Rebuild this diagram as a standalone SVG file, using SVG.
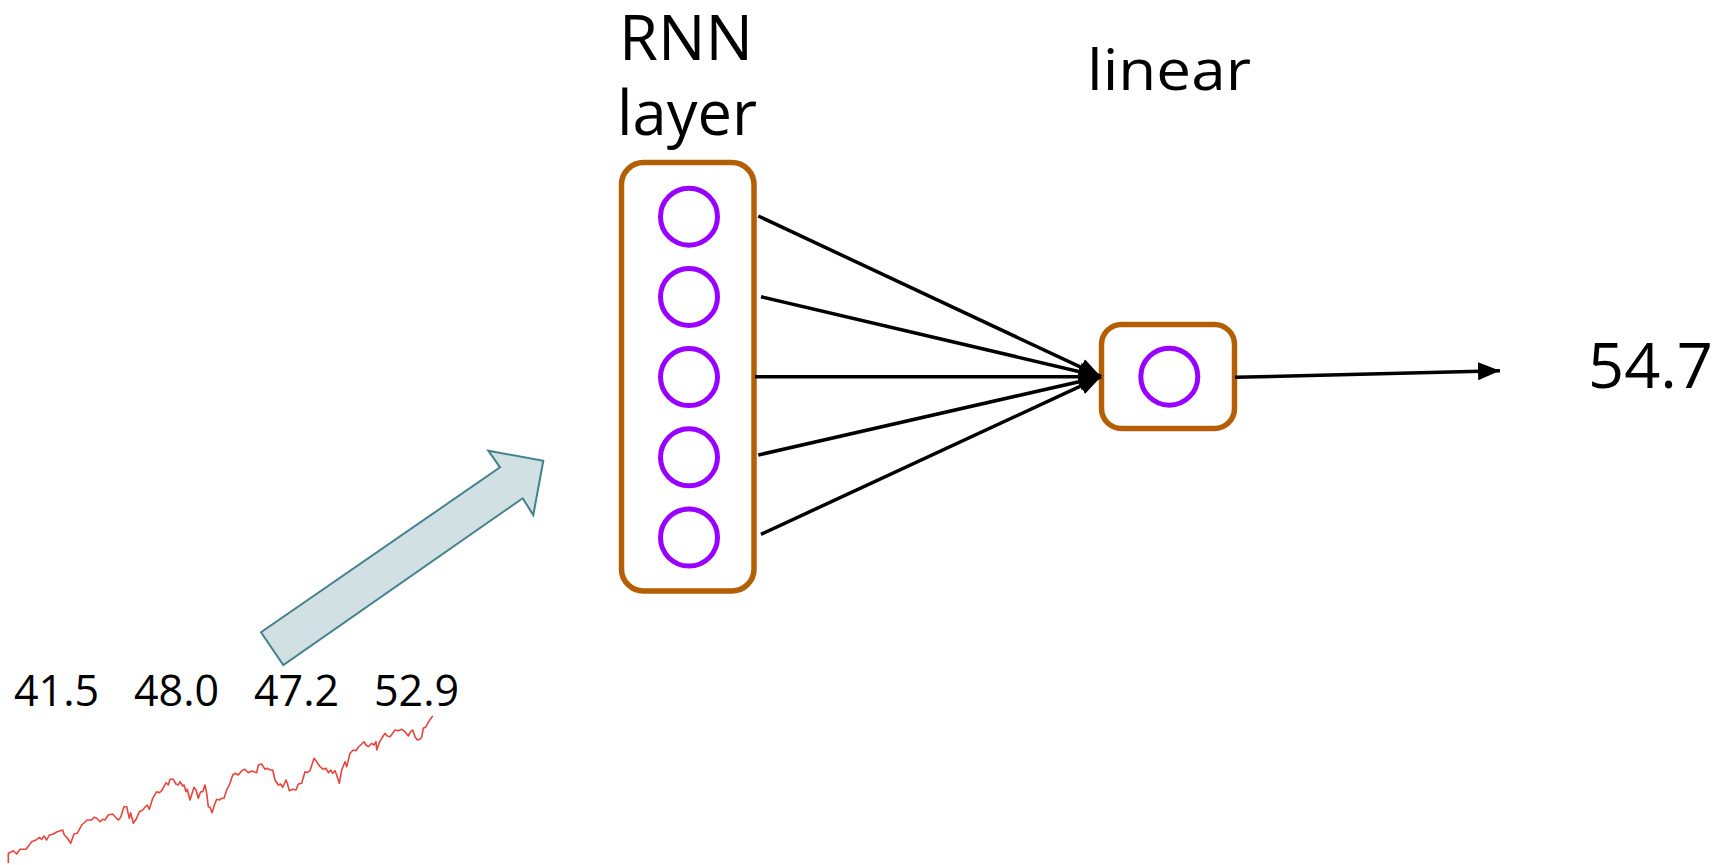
<svg xmlns="http://www.w3.org/2000/svg" width="1718" height="865" viewBox="0 0 1718 865">
  <style>
    .label { font-family: "Open Sans", "Liberation Sans", sans-serif; fill: #000; }
    .box { fill: #fff; stroke: #b45f06; stroke-width: 5.5; }
    .unit { fill: none; stroke: #9900ff; stroke-width: 5; }
    .edge { stroke: #000; stroke-width: 3.5; fill: none; }
  </style>
  <defs>
    <marker id="head" markerUnits="userSpaceOnUse" viewBox="0 0 22 18" markerWidth="22" markerHeight="18" refX="22" refY="9" orient="auto">
      <path d="M0,0 L22,9 L0,18 z" fill="#000"/>
    </marker>
  </defs>
  <rect width="1718" height="865" fill="#fff"/>

  <!-- input sequence values -->
  <g id="inputs">
    <text class="label" x="14" y="706" font-size="43">41.5</text>
    <text class="label" x="134" y="706" font-size="43">48.0</text>
    <text class="label" x="254" y="706" font-size="43">47.2</text>
    <text class="label" x="374" y="706" font-size="43">52.9</text>
  </g>

  <!-- price series sparkline -->
  <g id="series">
    <polyline fill="none" stroke="#e8463c" stroke-width="1.6" stroke-linejoin="round" points="8.3,863 8.3,853.3 11.7,851.7 13.3,850.7 16.7,854 20,849.3 26,849.3 31.7,841.7 36,840 39.3,837.3 41.7,839.3 44,836 46.7,840 49.3,835 53.3,834 56.7,832 62.7,830 64.3,835 66.7,837.3 70.7,843.3 74,834 77.3,833.3 81.7,825 87.3,820 91.7,820 94,817.3 96.7,818.3 100,821.7 102.7,819.3 105,820 108.3,815 112.7,814 115,816.7 118.3,820 120.7,817.3 124,806.7 126.7,806.7 129.3,818.3 130.7,812.7 133.3,823.3 136.7,818.3 139.3,811.7 142.7,810 145,807.3 147.3,805 149.3,809.3 152.7,798.3 156.7,791.7 159.3,792.7 161.7,790.7 166,782.7 168.3,785 170,779.3 173.3,779.3 176,784 178.3,785 180,781.7 182.7,786 184,785 186,791.7 187.3,789.3 190,800 194,787.3 196,790 198.3,798.3 200.7,791.7 202.7,791.7 205,785 206.7,793.3 208.3,806.7 210,807.3 212,812.7 214,806 216.7,799.3 219.3,800 221.7,798.3 224,798.3 226.7,790 230,783.3 232.7,775 235,773.3 238.3,775 241.7,770.7 245,769.3 248.3,772.7 251.7,771 256.7,772.7 258.3,765 261.7,764 265,769.3 267.3,768.3 270,770 272.7,770 275,780 278.3,785 280.7,784 282.7,787.3 286,780 287.3,783.3 289.3,790.7 292.7,789.3 296,790 298.3,784 301.7,783.3 305,771.7 307.3,772.7 310,770.7 314,758.3 316.7,761.7 320,766.7 323.3,769.3 326,768.3 328.3,772.7 330.7,770 332.7,773.3 335,770.7 336.7,775 339.3,783.3 341.7,770 345,761.7 346.7,766.7 350,753.3 353.3,750 356,750.7 358.3,747.3 361.7,744 364,741.7 366,745 368.3,746.7 371.7,743.3 374,745 376,741.7 376.7,750 379.3,742.7 381.7,738.3 385,733.3 387.3,736 390,736.7 392.7,733.3 395,730 398.3,730.7 401.7,729.3 405,731.7 408.3,736 410.7,731.7 412.7,730 415,736.7 417.3,740 420,739.3 421.7,737.3 423.3,728.3 426,726.7 429.3,720.7 432.7,716"/>
  </g>

  <!-- block arrow feeding the sequence into the recurrent layer -->
  <g id="feed-arrow">
    <polygon points="261,632.3 283.3,665 522.7,498.3 533.3,515 543.3,460.7 488.3,450.7 500,467.3" fill="#d0e0e3" stroke="#45818e" stroke-width="2" stroke-linejoin="miter"/>
  </g>

  <!-- recurrent layer -->
  <g id="rnn-layer">
    <text class="label" font-size="62">
      <tspan x="619" y="59.5" textLength="134" lengthAdjust="spacingAndGlyphs">RNN</tspan>
      <tspan x="617" y="135" textLength="140" lengthAdjust="spacingAndGlyphs">layer</tspan>
    </text>
    <rect class="box" x="621.5" y="162.5" width="132.5" height="428.5" rx="22"/>
    <circle class="unit" cx="689" cy="216.7" r="28.5"/>
    <circle class="unit" cx="689" cy="296.9" r="28.5"/>
    <circle class="unit" cx="689" cy="377.1" r="28.5"/>
    <circle class="unit" cx="689" cy="457.3" r="28.5"/>
    <circle class="unit" cx="689" cy="537.5" r="28.5"/>
  </g>

  <!-- linear output layer -->
  <g id="linear-layer">
    <text class="label" x="1087" y="89.5" font-size="57" textLength="164" lengthAdjust="spacingAndGlyphs">linear</text>
    <rect class="box" x="1101.5" y="324.5" width="133" height="104" rx="20"/>
    <circle class="unit" cx="1169.3" cy="376.7" r="28.5"/>
  </g>

  <!-- prediction -->
  <g id="output">
    <text class="label" x="1588" y="388" font-size="63" textLength="125" lengthAdjust="spacingAndGlyphs">54.7</text>
  </g>

  <g id="connectors">
    <line class="edge" x1="758.3" y1="216" x2="1101" y2="376.7" marker-end="url(#head)"/>
    <line class="edge" x1="761" y1="296.7" x2="1101" y2="376.7" marker-end="url(#head)"/>
    <line class="edge" x1="755" y1="376.7" x2="1101" y2="376.7" marker-end="url(#head)"/>
    <line class="edge" x1="758.3" y1="455" x2="1101" y2="376.7" marker-end="url(#head)"/>
    <line class="edge" x1="761" y1="534.3" x2="1101" y2="376.7" marker-end="url(#head)"/>
    <line class="edge" x1="1235" y1="377.3" x2="1500" y2="370.7" marker-end="url(#head)"/>
  </g>
</svg>
